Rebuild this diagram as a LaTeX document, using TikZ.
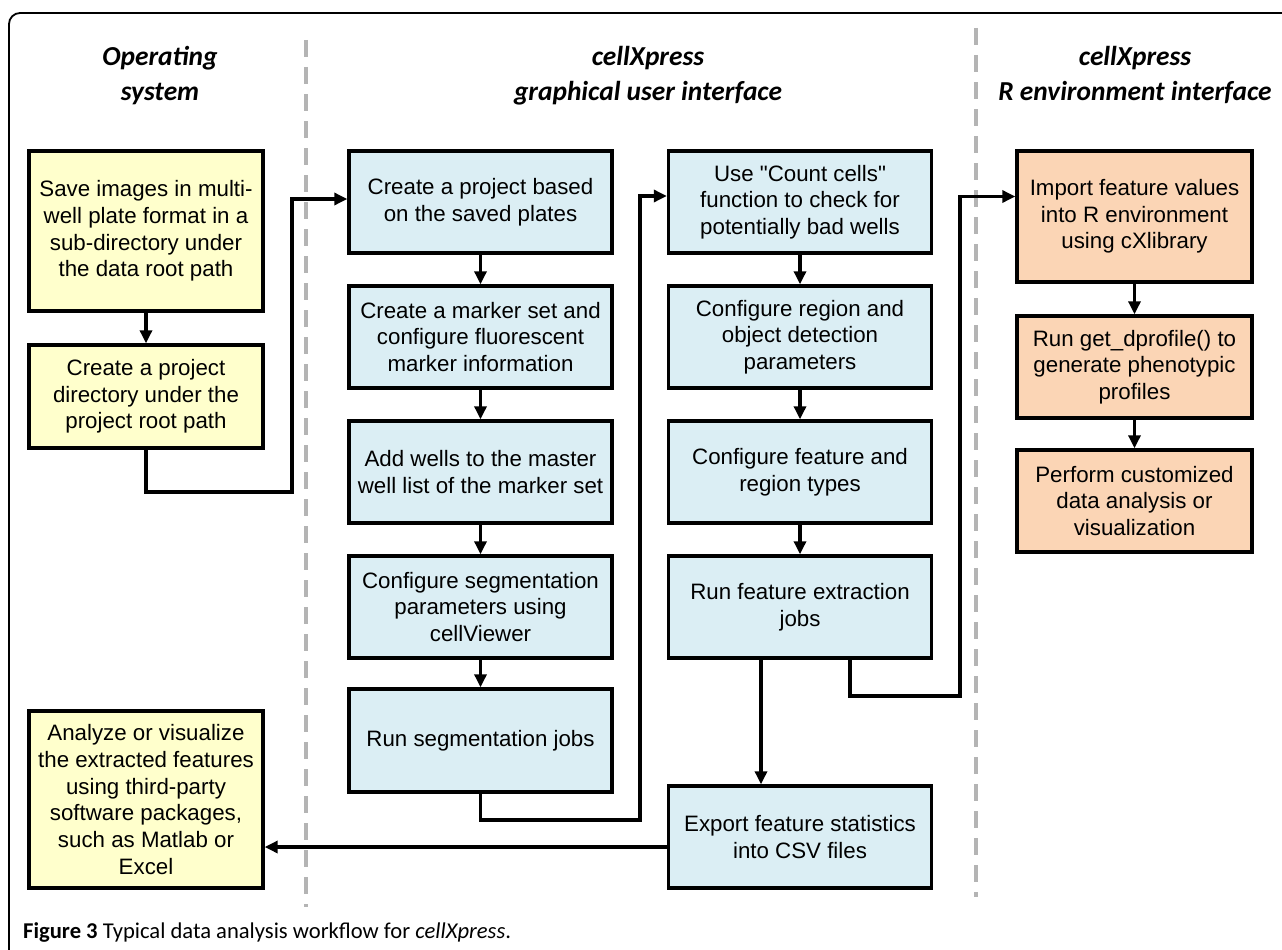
\documentclass[tikz,border=0pt]{standalone}
\usepackage{fontspec}
\setmainfont{Liberation Sans}
\newfontfamily\headfont{Carlito}
\usetikzlibrary{arrows.meta}
\usepackage{xcolor}
\definecolor{osyellow}{HTML}{FFFFCC}
\definecolor{guiblue}{HTML}{DBEEF4}
\definecolor{renvorange}{HTML}{FBD5B5}
\definecolor{sepgray}{HTML}{B4B4B4}

\begin{document}
\begin{tikzpicture}[x=1pt, y=-1pt,
    flowbox/.style={draw=black, line width=3.4pt, align=center, inner sep=2pt,
        font=\fontsize{22.3}{26.7}\selectfont},
    osbox/.style={flowbox, fill=osyellow, minimum width=234pt},
    guibox/.style={flowbox, fill=guiblue, minimum width=263pt, minimum height=102pt},
    renvbox/.style={flowbox, fill=renvorange, minimum width=235pt, minimum height=102pt},
    heading/.style={align=center, anchor=base, font=\headfont\bfseries\itshape\fontsize{27.4}{35}\selectfont},
    link/.style={line width=3.2pt, -{Triangle[length=13pt, width=12pt]}},
    sepline/.style={draw=sepgray, line width=3.8pt, dash pattern=on 17pt off 10pt}]
    \useasboundingbox (0,0) rectangle (1282,950);
    % frame and column separators
    \draw[line width=1.8pt, rounded corners=11pt] (9,962) -- (9,13) -- (1295,13);
    \draw[sepline] (306,40) -- (306,907);
    \draw[sepline] (976,28) -- (976,897);
    % headings
    \node[heading] (hos) at (160,100) {Operating\\system};
    \node[heading] (hgui) at (648,100) {cellXpress\\graphical user interface};
    \node[heading] (hrenv) at (1135,100) {cellXpress\\R environment interface};
    % operating system
    \node[osbox, minimum height=160pt] (Y1) at (146,231) {Save images in multi-\\well plate format in a\\sub-directory under\\the data root path};
    \node[osbox, minimum height=103pt] (Y2) at (146,396.5) {Create a project\\directory under the\\project root path};
    \node[osbox, minimum height=177pt] (Y3) at (146,799.5) {Analyze or visualize\\the extracted features\\using third-party\\software packages,\\such as Matlab or\\Excel};
    % graphical user interface
    \node[guibox] (B1) at (480.5,202) {Create a project based\\on the saved plates};
    \node[guibox] (B2) at (480.5,337) {Create a marker set and\\configure fluorescent\\marker information};
    \node[guibox] (B3) at (480.5,472) {Add wells to the master\\well list of the marker set};
    \node[guibox] (B4) at (480.5,607) {Configure segmentation\\parameters using\\cellViewer};
    \node[guibox, minimum height=103pt] (B5) at (480.5,740.5) {Run segmentation jobs};
    \node[guibox] (C1) at (800,202) {Use \textquotedbl Count cells\textquotedbl\\function to check for\\potentially bad wells};
    \node[guibox] (C2) at (800,337) {Configure region and\\object detection\\parameters};
    \node[guibox] (C3) at (800,472) {Configure feature and\\region types};
    \node[guibox] (C4) at (800,607) {Run feature extraction\\jobs};
    \node[guibox] (C5) at (800,837) {Export feature statistics\\into CSV files};
    % R environment interface
    \node[renvbox, minimum height=131pt] (R1) at (1134.5,216.5) {Import feature values\\into R environment\\using cXlibrary};
    \node[renvbox] (R2) at (1134.5,367) {Run get\_dprofile() to\\generate phenotypic\\profiles};
    \node[renvbox] (R3) at (1134.5,501) {Perform customized\\data analysis or\\visualization};
    % connectors
    \foreach \from/\to in {Y1/Y2, B1/B2, B2/B3, B3/B4, B4/B5, C1/C2, C2/C3, C3/C4, R1/R2, R2/R3}
    {
        \draw[link] (\from.south) -- (\to.north);
    }
    \coordinate (osjog) at (292,492);
    \coordinate (guijog) at (640,820);
    \coordinate (renvjog) at (960,696);
    \draw[link] (Y2.south) |- (osjog) |- ([yshift=3pt]B1.west);
    \draw[link] (B5.south) |- (guijog) |- ([yshift=6pt]C1.west);
    \draw[link] ([xshift=50pt]C4.south) |- (renvjog) |- ([yshift=20pt]R1.west);
    \draw[link] ([xshift=-39pt]C4.south) -- ([xshift=-39pt]C5.north);
    \draw[link] ([yshift=-10pt]C5.west) -- ([yshift=-10pt]C5.west -| Y3.east);
    % caption
    \node[anchor=base west, inner sep=0pt, font=\headfont\fontsize{22.6}{26}\selectfont] (caption) at (23,938)
        {\textbf{Figure 3} Typical data analysis workflow for \textit{cellXpress}.};
\end{tikzpicture}
\end{document}
